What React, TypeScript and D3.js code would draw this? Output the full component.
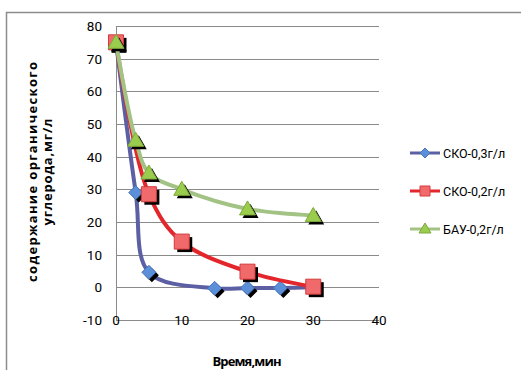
import React from "react";
import * as d3 from "d3";

// Time points (min) and organic carbon content (mg/l) for each sample
const timeSko03 = [0, 3, 5, 15, 20, 25, 30];
const valSko03 = [75, 29, 4.6, -0.3, -0.2, -0.2, 0];

const timeSko02 = [0, 5, 10, 20, 30];
const valSko02 = [75, 28.5, 14, 4.8, 0.2];

const timeBau02 = [0, 3, 5, 10, 20, 30];
const valBau02 = [75, 45, 35, 30, 24, 22];

const seriesNames = ["СКО-0,3г/л", "СКО-0,2г/л", "БАУ-0,2г/л"];
const xTicks = [0, 10, 20, 30, 40];
const yTicks = [-10, 0, 10, 20, 30, 40, 50, 60, 70, 80];

const W = 521;
const H = 370;
const plot = { left: 116, right: 379, top: 26, bottom: 320 };

const x = d3.scaleLinear().domain([0, 40]).range([plot.left, plot.right]);
const y = d3.scaleLinear().domain([-10, 80]).range([plot.bottom, plot.top]);

type Kind = "diamond" | "square" | "triangle";

const styles: { line: string; fill: string; stroke: string; kind: Kind }[] = [
  { line: "#5C5FA3", fill: "#5B8FD9", stroke: "#4A74B8", kind: "diamond" },
  { line: "#E3262B", fill: "#F06A6C", stroke: "#D63A3C", kind: "square" },
  { line: "#A3C385", fill: "#9ACD4E", stroke: "#7FA83E", kind: "triangle" },
];

function markerPath(kind: Kind, cx: number, cy: number): string {
  if (kind === "diamond") {
    const r = 7;
    return `M${cx},${cy - r}L${cx + r},${cy}L${cx},${cy + r}L${cx - r},${cy}Z`;
  }
  if (kind === "square") {
    const r = 7.5;
    return `M${cx - r},${cy - r}H${cx + r}V${cy + r}H${cx - r}Z`;
  }
  return `M${cx},${cy - 8}L${cx + 8},${cy + 6}L${cx - 8},${cy + 6}Z`;
}

const line = d3
  .line<[number, number]>()
  .x((d) => x(d[0]))
  .y((d) => y(d[1]))
  .curve(d3.curveCatmullRom.alpha(0.5));

export default function App() {
  const data: [number, number][][] = [
    timeSko03.map((t, i) => [t, valSko03[i]] as [number, number]),
    timeSko02.map((t, i) => [t, valSko02[i]] as [number, number]),
    timeBau02.map((t, i) => [t, valBau02[i]] as [number, number]),
  ];
  const font = "Roboto, 'Liberation Sans', sans-serif";
  const titleFont = "'Open Sans', Roboto, sans-serif";
  const legendY = [153, 191, 229];

  return (
    <svg
      width={W}
      height={H}
      style={{ position: "absolute", left: 0, top: 0, background: "#fff" }}
      fontFamily={font}
    >
      {/* chart frame */}
      <path d={`M6.5,${H}V12.5H${W}`} fill="none" stroke="#8c8c8c" strokeWidth={1.5} />

      {/* horizontal gridlines */}
      {yTicks
        .filter((t) => t > -10)
        .map((t) => (
          <line
            key={t}
            x1={plot.left}
            x2={plot.right}
            y1={Math.round(y(t)) + 0.5}
            y2={Math.round(y(t)) + 0.5}
            stroke="#8a8a8a"
            strokeWidth={1}
          />
        ))}

      {/* axes */}
      <line x1={plot.left + 0.5} x2={plot.left + 0.5} y1={plot.top} y2={plot.bottom} stroke="#8a8a8a" />
      <line x1={plot.left} x2={plot.right} y1={plot.bottom + 0.5} y2={plot.bottom + 0.5} stroke="#8a8a8a" />

      {/* y tick labels */}
      {yTicks.map((t) => (
        <text key={t} x={102} y={y(t) + 5} textAnchor="end" fontSize={13.5} fill="#000">
          {t}
        </text>
      ))}

      {/* x tick labels */}
      {xTicks.map((t) => (
        <text key={t} x={x(t)} y={plot.bottom + 5} textAnchor="middle" fontSize={13.5} fill="#000">
          {t}
        </text>
      ))}

      {/* series */}
      {data.map((pts, si) => {
        const s = styles[si];
        return (
          <g key={si}>
            <path d={line(pts) ?? ""} fill="none" stroke={s.line} strokeWidth={4} strokeLinejoin="round" />
            {pts.map((p, i) => (
              <g key={i}>
                <path d={markerPath(s.kind, x(p[0]) + 3, y(p[1]) + 3)} fill="#000" />
                <path d={markerPath(s.kind, x(p[0]), y(p[1]))} fill={s.fill} stroke={s.stroke} strokeWidth={1} />
              </g>
            ))}
          </g>
        );
      })}

      {/* axis titles */}
      <g fontFamily={titleFont} fontWeight="bold" fontSize={13}>
        <text
          transform="translate(37,172) rotate(-90)"
          textAnchor="middle"
          textLength={220}
          lengthAdjust="spacing"
        >
          содержание органического
        </text>
        <text
          transform="translate(52,172) rotate(-90)"
          textAnchor="middle"
          textLength={107}
          lengthAdjust="spacing"
        >
          углерода,мг/л
        </text>
        <text x={247} y={366} textAnchor="middle" textLength={69} lengthAdjust="spacing">
          Время,мин
        </text>
      </g>

      {/* legend */}
      {seriesNames.map((name, i) => {
        const s = styles[i];
        const ly = legendY[i];
        return (
          <g key={name}>
            <line x1={410} x2={440} y1={ly} y2={ly} stroke={s.line} strokeWidth={3} />
            <path
              d={
                s.kind === "triangle"
                  ? `M425,${ly - 6}L431,${ly + 4}L419,${ly + 4}Z`
                  : s.kind === "square"
                  ? `M420,${ly - 5}H430V${ly + 5}H420Z`
                  : `M425,${ly - 5}L430,${ly}L425,${ly + 5}L420,${ly}Z`
              }
              fill={s.fill}
              stroke={s.stroke}
            />
            <text x={443} y={ly + 4.5} fontSize={12.5}>
              {name}
            </text>
          </g>
        );
      })}
    </svg>
  );
}
